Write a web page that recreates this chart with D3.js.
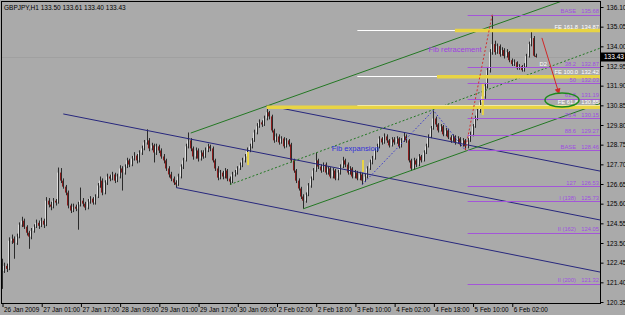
<!DOCTYPE html>
<html lang="en">
<head>
    <meta charset="UTF-8">
    <title>GBPJPY H1</title>
    <script src="https://d3js.org/d3.v7.min.js"></script>
    <style>
        body {
            margin: 0;
            overflow: hidden;
            background: #aaaaaa;
        }
        svg text {
            font-family: "Liberation Sans", Arial, sans-serif;
        }
    </style>
</head>
<body>
<script>
    // time axis labels, one every 16 hourly bars
    const timeLabels = ["26 Jan 2009", "27 Jan 01:00", "27 Jan 17:00", "28 Jan 09:00", "29 Jan 01:00",
        "29 Jan 17:00", "30 Jan 09:00", "2 Feb 02:00", "2 Feb 18:00", "3 Feb 10:00", "4 Feb 02:00",
        "4 Feb 18:00", "5 Feb 10:00", "6 Feb 02:00"];
    const priceTicks = [136.10, 135.05, 134.00, 132.95, 131.90, 130.85, 129.80, 128.75, 127.70,
        126.65, 125.60, 124.55, 123.50, 122.45, 121.40, 120.35];

    // hourly candles (open of each bar = previous close)
    const firstOpen = 122.20;
    const closes = [
        122.01, 122.28, 122.12, 123.62, 123.73, 123.51, 123.84, 124.48, 124.69, 124.37,
        124.05, 123.84, 124.15, 124.37, 124.58, 124.42, 124.69, 124.48, 125.76, 125.55,
        125.44, 125.76, 125.66, 127.26, 126.83, 126.51, 126.19, 125.50, 125.23, 125.44,
        125.33, 125.55, 125.76, 125.60, 125.39, 125.71, 125.87, 125.66, 125.98, 126.57,
        126.83, 126.19, 126.73, 127.05, 126.94, 127.16, 126.83, 127.05, 127.48, 127.26,
        127.58, 127.91, 127.69, 128.01, 128.17, 127.91, 128.33, 128.55, 128.87, 128.98,
        128.55, 128.71, 128.33, 128.66, 128.44, 128.12, 127.91, 127.48, 127.16, 126.94,
        126.73, 126.62, 127.05, 127.58, 127.91, 128.66, 128.98, 128.55, 128.12, 128.44,
        128.01, 128.33, 128.12, 128.44, 128.66, 128.55, 127.91, 127.48, 126.99, 127.26,
        127.05, 127.37, 126.94, 126.78, 127.16, 127.26, 127.48, 127.64, 127.91, 128.12,
        128.44, 128.66, 128.98, 129.40, 129.73, 129.94, 129.83, 130.15, 130.48, 130.26,
        129.51, 128.98, 129.19, 128.87, 129.08, 128.66, 128.98, 128.76, 127.91, 127.37,
        126.83, 126.41, 125.98, 125.76, 126.08, 126.57, 126.94, 127.37, 127.91, 127.58,
        127.37, 127.69, 127.26, 127.48, 127.05, 127.37, 126.94, 127.26, 127.58, 127.91,
        127.69, 127.26, 127.48, 127.05, 127.26, 126.94, 127.16, 126.83, 127.05, 127.48,
        127.80, 128.01, 128.44, 128.66, 129.08, 128.87, 129.19, 128.98, 128.71, 129.03,
        128.87, 129.08, 128.66, 128.98, 129.19, 128.98, 127.91, 127.48, 127.91, 127.69,
        128.12, 127.91, 128.33, 128.66, 129.19, 129.62, 130.15, 129.83, 129.51, 129.73,
        129.30, 129.51, 129.14, 128.98, 129.19, 128.87, 129.08, 128.76, 128.98, 128.66,
        128.98, 129.30, 129.73, 130.15, 130.58, 131.01, 131.33, 131.87, 132.73, 133.69,
        134.12, 133.69, 134.01, 133.58, 133.80, 133.48, 133.69, 133.26, 133.05, 133.15,
        132.83, 132.94, 132.73, 132.94, 133.48, 134.12, 134.44, 133.50, 133.43
    ];
    const highs = [
        122.66, 122.45, 122.40, 123.80, 123.95, 123.85, 124.00, 124.60, 124.90, 124.80,
        124.45, 124.15, 124.30, 124.50, 124.75, 124.70, 124.85, 124.80, 125.95, 125.90,
        125.70, 125.90, 125.85, 127.53, 127.50, 126.95, 126.60, 126.30, 125.60, 125.60,
        125.55, 125.70, 126.46, 125.90, 125.70, 125.85, 126.00, 125.95, 126.10, 126.70,
        127.05, 126.95, 126.85, 127.20, 127.15, 127.30, 127.25, 127.20, 127.65, 127.60,
        127.70, 128.05, 128.00, 128.15, 128.35, 128.25, 128.45, 128.70, 129.00, 129.57,
        129.10, 128.85, 128.80, 128.80, 128.75, 128.55, 128.25, 128.00, 127.60, 127.30,
        127.05, 126.85, 127.20, 127.70, 128.05, 128.80, 129.40, 129.10, 128.65, 128.60,
        128.55, 128.45, 128.45, 128.60, 128.80, 128.75, 128.65, 128.00, 127.60, 127.40,
        127.35, 127.50, 127.45, 127.05, 127.30, 127.40, 127.60, 127.80, 128.05, 128.25,
        128.60, 128.80, 129.10, 129.55, 129.90, 130.10, 130.05, 130.30, 130.85, 130.55,
        130.35, 129.60, 129.35, 129.30, 129.20, 129.15, 129.10, 129.05, 128.85, 128.00,
        127.45, 126.95, 126.50, 126.10, 126.20, 126.70, 127.05, 127.50, 128.33, 128.00,
        127.70, 127.80, 127.80, 127.60, 127.55, 127.50, 127.45, 127.40, 127.70, 128.10,
        128.00, 127.80, 127.60, 127.55, 127.40, 127.35, 127.30, 127.25, 127.20, 127.60,
        127.95, 128.15, 128.55, 128.80, 129.20, 129.15, 129.35, 129.30, 129.05, 129.15,
        129.15, 129.20, 129.15, 129.10, 129.40, 129.30, 129.05, 128.00, 128.05, 128.00,
        128.25, 128.20, 128.45, 128.80, 129.30, 129.75, 130.58, 130.25, 129.90, 129.85,
        129.80, 129.65, 129.60, 129.25, 129.30, 129.25, 129.20, 129.15, 129.10, 129.05,
        129.10, 129.45, 129.85, 130.30, 130.75, 131.15, 131.55, 132.05, 132.90, 133.85,
        135.68, 134.30, 134.15, 134.10, 133.95, 133.90, 133.85, 133.75, 133.35, 133.30,
        133.20, 133.05, 133.00, 133.10, 133.60, 134.25, 134.76, 134.55, 133.61
    ];
    const lows = [
        121.05, 121.90, 121.95, 122.05, 123.45, 122.66, 123.40, 123.75, 124.35, 124.25,
        123.90, 123.19, 123.70, 124.05, 124.30, 124.25, 124.35, 124.30, 124.40, 125.40,
        125.25, 125.35, 125.50, 125.60, 126.70, 126.40, 126.05, 125.35, 125.10, 125.15,
        125.20, 124.21, 125.45, 125.45, 125.25, 125.30, 125.60, 125.55, 125.55, 125.90,
        126.45, 126.05, 126.10, 126.60, 126.80, 126.85, 126.70, 126.75, 126.95, 126.30,
        127.15, 127.50, 127.55, 127.60, 127.90, 127.75, 127.80, 128.20, 128.45, 128.75,
        128.40, 128.45, 127.80, 128.20, 128.30, 128.00, 127.75, 127.35, 127.00, 126.80,
        126.60, 126.46, 126.55, 126.95, 127.45, 127.85, 128.55, 128.40, 127.95, 128.00,
        127.85, 127.90, 128.00, 128.05, 128.35, 128.40, 127.80, 127.35, 126.85, 126.90,
        126.90, 126.95, 126.80, 126.62, 126.70, 127.05, 127.15, 127.40, 127.55, 127.80,
        128.05, 128.35, 128.55, 128.90, 129.30, 129.65, 129.70, 129.75, 130.05, 130.10,
        129.40, 128.85, 128.90, 128.75, 128.80, 128.55, 128.60, 128.65, 127.80, 127.25,
        126.70, 126.30, 125.85, 125.33, 125.65, 126.00, 126.45, 126.85, 127.30, 127.45,
        127.25, 127.30, 127.15, 127.15, 126.95, 126.95, 126.85, 126.85, 127.15, 127.50,
        127.55, 127.15, 127.15, 126.95, 126.95, 126.85, 126.85, 126.62, 126.75, 126.95,
        127.40, 127.70, 127.95, 128.35, 128.55, 128.75, 128.80, 128.85, 128.60, 128.65,
        128.75, 128.80, 128.55, 128.60, 128.90, 128.85, 127.80, 127.35, 127.40, 127.55,
        127.60, 127.80, 127.85, 128.25, 128.60, 129.10, 129.55, 129.70, 129.40, 129.45,
        129.20, 129.20, 129.05, 128.85, 128.90, 128.75, 128.80, 128.65, 128.65, 128.46,
        128.55, 128.90, 129.20, 129.65, 130.05, 130.45, 130.90, 131.20, 131.75, 132.60,
        133.55, 133.55, 133.60, 133.45, 133.50, 133.35, 133.40, 133.15, 132.95, 132.95,
        132.75, 132.75, 132.65, 132.65, 132.85, 133.40, 134.00, 133.45, 133.40
    ];

    // drawn objects, as [bar index, price] anchors
    const navyLines = [
        [[25, 130.39], [244, 124.73]],
        [[71, 126.46], [244, 121.95]],
        [[108, 130.85], [244, 127.34]]
    ];
    const greenLines = [
        [[77, 129.37], [244, 137.14]],
        [[123, 125.33], [244, 130.95]]
    ];
    const greenMedian = [[93, 126.62], [244, 133.90]];
    const expansionPoints = [[147, 126.62], [176, 130.58], [189, 128.46]];
    const retraceTrend = [[189, 128.46], [200, 135.68]];
    const arrowPoints = [[220.3, 134.45], [227.3, 131.46]];
    const ellipseCenter = [228.5, 131.13];
    const yellowHLines = [[108, 130.78], [177.5, 132.40], [184.8, 134.87]];
    const yellowVLines = [[100.4, 128.36, 127.66], [147.3, 127.93, 127.29], [196.2, 132.00, 130.33]];

    const retraceLevels = [135.68, 132.87, 132.03, 131.19, 130.15, 129.27, 128.46, 126.53, 125.73, 124.05, 121.32];
    const retraceNames = ["BASE", "38.2", "50", "61.8", "76.4", "88.6", "BASE", "127", "I  (138)", "II  (162)", "II  (200)"];
    const expansionLevels = [134.87, 132.42, 130.85];
    const expansionNames = ["FE 161.8", "FE 100.0", "FE 61.8"];
    const retraceStart = 190;
    const expansionStart = 145;
    const lastBar = { o: 133.50, h: 133.61, l: 133.40, c: 133.43 };

    const width = 625, height = 315;
    const plot = { left: 2, top: 2, right: 600, bottom: 304 };

    const svg = d3.select("body").append("svg")
        .attr("width", width)
        .attr("height", height);

    svg.append("rect").attr("width", width).attr("height", height).attr("fill", "#aaaaaa");

    const x = d3.scaleLinear().domain([0, 244]).range([plot.left, plot.right]);
    const y = d3.scaleLinear().domain([120.35, 136.10]).range([302, 7]);

    svg.append("clipPath").attr("id", "clip")
        .append("rect")
        .attr("x", plot.left).attr("y", plot.top)
        .attr("width", plot.right - plot.left).attr("height", plot.bottom - plot.top);

    const g = svg.append("g").attr("clip-path", "url(#clip)");

    // bid line
    g.append("line")
        .attr("x1", plot.left).attr("x2", plot.right)
        .attr("y1", Math.round(y(lastBar.c)) + 0.5).attr("y2", Math.round(y(lastBar.c)) + 0.5)
        .attr("stroke", "#a0a0a0");

    // candles
    const bars = closes.map((c, i) => ({
        i, c, h: highs[i], l: lows[i], o: i === 0 ? firstOpen : closes[i - 1]
    }));

    const candle = g.append("g").selectAll("g").data(bars).join("g");
    candle.append("rect")
        .attr("x", d => Math.round(x(d.i)) - 1)
        .attr("width", 2)
        .attr("y", d => y(Math.max(d.o, d.c)))
        .attr("height", d => Math.max(1, Math.abs(y(d.o) - y(d.c))))
        .attr("fill", d => d.c >= d.o ? "#dedede" : "#8c1c1c");
    candle.append("line")
        .attr("x1", d => Math.round(x(d.i)) + 0.5)
        .attr("x2", d => Math.round(x(d.i)) + 0.5)
        .attr("y1", d => y(d.h))
        .attr("y2", d => y(d.l))
        .attr("stroke", "#2a2a2a");

    const line = d3.line().x(d => x(d[0])).y(d => y(d[1]));

    // channels
    navyLines.forEach(l => g.append("path").attr("d", line(l))
        .attr("fill", "none").attr("stroke", "#27277d").attr("stroke-width", 1));
    greenLines.forEach(l => g.append("path").attr("d", line(l))
        .attr("fill", "none").attr("stroke", "#237823").attr("stroke-width", 1));
    g.append("path").attr("d", line(greenMedian))
        .attr("fill", "none").attr("stroke", "#237823").attr("stroke-dasharray", "2,2");

    // fib expansion levels (white)
    expansionLevels.forEach(p => g.append("line")
        .attr("x1", x(expansionStart)).attr("x2", plot.right)
        .attr("y1", Math.round(y(p)) + 0.5).attr("y2", Math.round(y(p)) + 0.5)
        .attr("stroke", "#ffffff"));

    // yellow markers
    yellowHLines.forEach(d => g.append("line")
        .attr("x1", x(d[0])).attr("x2", plot.right)
        .attr("y1", y(d[1]) + 0.5).attr("y2", y(d[1]) + 0.5)
        .attr("stroke", "#e8d444").attr("stroke-width", 3.5));
    yellowVLines.forEach(d => g.append("line")
        .attr("x1", x(d[0])).attr("x2", x(d[0]))
        .attr("y1", y(d[1])).attr("y2", y(d[2]))
        .attr("stroke", "#e8d444").attr("stroke-width", 2));

    // fib retracement levels (purple)
    retraceLevels.forEach(p => g.append("line")
        .attr("x1", x(retraceStart)).attr("x2", plot.right)
        .attr("y1", Math.round(y(p)) + 0.5).attr("y2", Math.round(y(p)) + 0.5)
        .attr("stroke", "#a356d8"));

    // dotted construction lines
    g.append("path").attr("d", line(expansionPoints))
        .attr("fill", "none").attr("stroke", "#3535cf").attr("stroke-dasharray", "1.5,2");
    g.append("path").attr("d", line(retraceTrend))
        .attr("fill", "none").attr("stroke", "#d23030").attr("stroke-dasharray", "2,2");

    // arrow
    svg.append("defs").append("marker")
        .attr("id", "arrow")
        .attr("viewBox", "0 0 10 10").attr("refX", 9).attr("refY", 5)
        .attr("markerWidth", 6).attr("markerHeight", 6)
        .attr("orient", "auto")
        .append("path").attr("d", "M0,0 L10,5 L0,10 z").attr("fill", "#d02828");
    g.append("path").attr("d", line(arrowPoints))
        .attr("stroke", "#d02828").attr("stroke-width", 1).attr("marker-end", "url(#arrow)");

    // level labels
    const labelFont = "5.8px";
    const labels = g.append("g").attr("font-size", labelFont);
    retraceLevels.forEach((p, i) => {
        labels.append("text").attr("x", 576).attr("y", y(p) - 1.5)
            .attr("text-anchor", "end").attr("fill", "#a04ee0").text(retraceNames[i]);
        labels.append("text").attr("x", 599).attr("y", y(p) - 1.5)
            .attr("text-anchor", "end").attr("fill", "#a04ee0").text(p.toFixed(2));
    });
    expansionLevels.forEach((p, i) => {
        labels.append("text").attr("x", 578).attr("y", y(p) - 1.5)
            .attr("text-anchor", "end").attr("fill", "#ffffff").text(expansionNames[i]);
        labels.append("text").attr("x", 599).attr("y", y(p) - 1.5)
            .attr("text-anchor", "end").attr("fill", "#ffffff").text(p.toFixed(1 + 1));
    });
    labels.append("text").attr("x", 547).attr("y", y(retraceLevels[1]) - 1.5)
        .attr("text-anchor", "end").attr("fill", "#ffffff").text("D2");

    // ellipse round the target
    g.append("ellipse")
        .attr("cx", x(ellipseCenter[0])).attr("cy", y(ellipseCenter[1]))
        .attr("rx", 17).attr("ry", 7)
        .attr("fill", "none").attr("stroke", "#1c8a1c").attr("stroke-width", 1.5);

    // notes
    g.append("text").attr("x", x(174)).attr("y", y(133.70))
        .attr("font-size", "7.6px").attr("fill", "#a040e0").text("Fib retracement");
    g.append("text").attr("x", x(134.5)).attr("y", y(128.40))
        .attr("font-size", "7.6px").attr("fill", "#3030d8").text("Fib expansion");

    // frame
    svg.append("rect")
        .attr("x", plot.left - 0.5).attr("y", plot.top - 0.5)
        .attr("width", plot.right - plot.left + 1).attr("height", plot.bottom - plot.top)
        .attr("fill", "none").attr("stroke", "#000");

    // price axis
    const yAxis = svg.append("g")
        .attr("transform", `translate(${plot.right + 0.5},0)`)
        .call(d3.axisRight(y).tickValues(priceTicks).tickFormat(d3.format(".2f"))
            .tickSize(3).tickSizeOuter(0).tickPadding(3));
    yAxis.select(".domain").remove();
    yAxis.selectAll("text").attr("font-size", "6.5px").attr("fill", "#000")
        .attr("font-family", "'Liberation Sans', Arial, sans-serif");
    yAxis.selectAll("line").attr("stroke", "#000");

    // current price box
    svg.append("rect")
        .attr("x", plot.right + 1).attr("y", y(lastBar.c) - 4.5)
        .attr("width", 24).attr("height", 9).attr("fill", "#000");
    svg.append("text")
        .attr("x", plot.right + 4).attr("y", y(lastBar.c) + 2.3)
        .attr("font-size", "6.5px").attr("fill", "#fff").text(lastBar.c.toFixed(2));

    // time axis
    const xAxis = svg.append("g")
        .attr("transform", `translate(0,${plot.bottom})`)
        .call(d3.axisBottom(x).tickValues(d3.range(0, 16 * timeLabels.length, 16))
            .tickFormat((d, i) => timeLabels[i]).tickSize(3).tickSizeOuter(0));
    xAxis.select(".domain").remove();
    xAxis.selectAll("line").attr("stroke", "#000").attr("transform", "translate(0.5,0)");
    xAxis.selectAll("text")
        .attr("text-anchor", "start").attr("x", 1.5).attr("y", 3.5)
        .attr("font-size", "6.4px").attr("fill", "#000")
        .attr("font-family", "'Liberation Sans', Arial, sans-serif");

    // title
    svg.append("text").attr("x", 4).attr("y", 9.5)
        .attr("font-size", "6.5px").attr("fill", "#000")
        .text(`GBPJPY,H1  ${lastBar.o.toFixed(2)} ${lastBar.h.toFixed(2)} ${lastBar.l.toFixed(2)} ${lastBar.c.toFixed(2)}`);
</script>
</body>
</html>
